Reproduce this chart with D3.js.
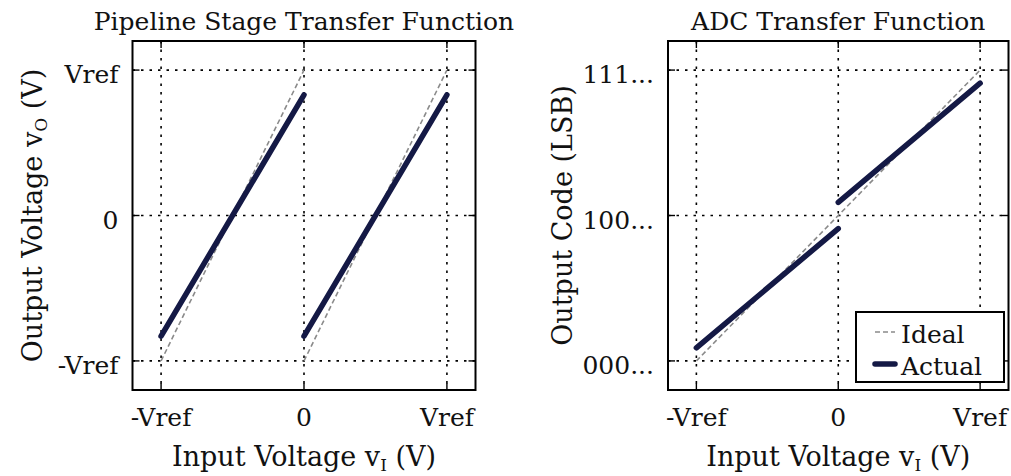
<!DOCTYPE html>
<html lang="en">
<head>
    <meta charset="UTF-8">
    <title>Pipeline Stage / ADC Transfer Function</title>
    <script src="https://d3js.org/d3.v7.min.js"></script>
    <style>
        body, html { margin: 0; padding: 0; background: #fff; }
        svg { display: block; font-family: "DejaVu Serif", "Liberation Serif", serif; }
        .frame { fill: none; stroke: #000; stroke-width: 2px; }
        .grid { stroke: #000; stroke-width: 1.6px; stroke-dasharray: 2.5 6; }
        .tick { stroke: #000; stroke-width: 1.4px; }
        .ideal { fill: none; stroke: #8a8a8a; stroke-width: 1.6px; stroke-dasharray: 5 3; }
        .actual { fill: none; stroke: #141945; stroke-width: 5.5px; stroke-linecap: round; }
        text { fill: #111; font-size: 25px; }
        .axis-label { font-size: 27px; }
    </style>
</head>
<body>
<div id="chart"></div>
<script>
// ticks shared by both panels (units of Vref)
const tickValues = [-1, 0, 1];
const xTickLabels = ["-Vref", "0", "Vref"];
const stageYTickLabels = ["-Vref", "0", "Vref"];
const adcYTickLabels = ["000...", "100...", "111..."];

// segments as [[x0, y0], [x1, y1]]
const stageIdeal = [[[-1, -1], [0, 1]], [[0, -1], [1, 1]]];
const stageActual = [[[-1, -0.83], [0, 0.83]], [[0, -0.83], [1, 0.83]]];
const adcIdeal = [[[-1, -1], [1, 1]]];
const adcActual = [[[-1, -0.91], [0, -0.09]], [[0, 0.09], [1, 0.91]]];

const legendItems = ["Ideal", "Actual"];

const width = 1011, height = 476;
const svg = d3.select("#chart").append("svg")
    .attr("width", width)
    .attr("height", height);

function drawPanel(opts) {
    const x = d3.scaleLinear().domain([-1.2, 1.2]).range([opts.left, opts.right]);
    const y = d3.scaleLinear().domain([-1.2, 1.2]).range([390, 41]);
    const g = svg.append("g");

    // dotted grid
    g.selectAll(".gx").data(tickValues).enter().append("line")
        .attr("class", "grid")
        .attr("x1", d => x(d)).attr("x2", d => x(d))
        .attr("y1", y.range()[1]).attr("y2", y.range()[0]);
    g.selectAll(".gy").data(tickValues).enter().append("line")
        .attr("class", "grid")
        .attr("x1", opts.left).attr("x2", opts.right)
        .attr("y1", d => y(d)).attr("y2", d => y(d));

    // inward ticks on every side
    const tl = 7;
    tickValues.forEach(v => {
        g.append("line").attr("class", "tick")
            .attr("x1", x(v)).attr("x2", x(v)).attr("y1", 390).attr("y2", 390 - tl);
        g.append("line").attr("class", "tick")
            .attr("x1", x(v)).attr("x2", x(v)).attr("y1", 41).attr("y2", 41 + tl);
        g.append("line").attr("class", "tick")
            .attr("x1", opts.left).attr("x2", opts.left + tl).attr("y1", y(v)).attr("y2", y(v));
        g.append("line").attr("class", "tick")
            .attr("x1", opts.right).attr("x2", opts.right - tl).attr("y1", y(v)).attr("y2", y(v));
    });

    const line = d3.line().x(d => x(d[0])).y(d => y(d[1]));

    g.selectAll(".ideal").data(opts.ideal).enter().append("path")
        .attr("class", "ideal").attr("d", line);
    g.selectAll(".actual").data(opts.actual).enter().append("path")
        .attr("class", "actual").attr("d", line);

    g.append("rect").attr("class", "frame")
        .attr("x", opts.left).attr("y", 41)
        .attr("width", opts.right - opts.left).attr("height", 349);

    // tick labels
    g.selectAll(".xl").data(tickValues).enter().append("text")
        .attr("x", d => x(d)).attr("y", 426)
        .attr("text-anchor", "middle")
        .text((d, i) => xTickLabels[i]);
    g.selectAll(".yl").data(tickValues).enter().append("text")
        .attr("x", opts.left - 14).attr("y", d => y(d) + 13)
        .attr("text-anchor", "end")
        .text((d, i) => opts.yTickLabels[i]);

    // title
    g.append("text")
        .attr("x", (opts.left + opts.right) / 2).attr("y", 30)
        .attr("text-anchor", "middle")
        .text(opts.title);

    // x label
    const xl = g.append("text").attr("class", "axis-label")
        .attr("x", (opts.left + opts.right) / 2).attr("y", 466)
        .attr("text-anchor", "middle");
    xl.append("tspan").text("Input Voltage v");
    xl.append("tspan").attr("font-size", "17px").attr("dy", 5).text("I");
    xl.append("tspan").attr("dy", -5).text(" (V)");

    // y label
    const yl = g.append("text").attr("class", "axis-label")
        .attr("transform", `translate(${opts.yLabelX},${(41 + 390) / 2}) rotate(-90)`)
        .attr("text-anchor", "middle");
    opts.yLabel(yl);

    return { x, y, g };
}

drawPanel({
    left: 132.5, right: 475.5,
    title: "Pipeline Stage Transfer Function",
    yTickLabels: stageYTickLabels,
    ideal: stageIdeal, actual: stageActual,
    yLabelX: 42,
    yLabel: t => {
        t.append("tspan").text("Output Voltage v");
        t.append("tspan").attr("font-size", "17px").attr("dy", 5).text("O");
        t.append("tspan").attr("dy", -5).text(" (V)");
    }
});

const adc = drawPanel({
    left: 668, right: 1008.5,
    title: "ADC Transfer Function",
    yTickLabels: adcYTickLabels,
    ideal: adcIdeal, actual: adcActual,
    yLabelX: 572,
    yLabel: t => t.text("Output Code (LSB)")
});

// legend
const lg = adc.g.append("g").attr("transform", "translate(856,312)");
lg.append("rect").attr("width", 148).attr("height", 70)
    .attr("fill", "#fff").attr("stroke", "#000").attr("stroke-width", 2);
legendItems.forEach((name, i) => {
    const cy = 20 + i * 32;
    lg.append("line")
        .attr("class", i === 0 ? "ideal" : "actual")
        .attr("x1", 19).attr("x2", 39).attr("y1", cy).attr("y2", cy);
    lg.append("text").attr("x", 45).attr("y", cy + 11).text(name);
});
</script>
</body>
</html>
